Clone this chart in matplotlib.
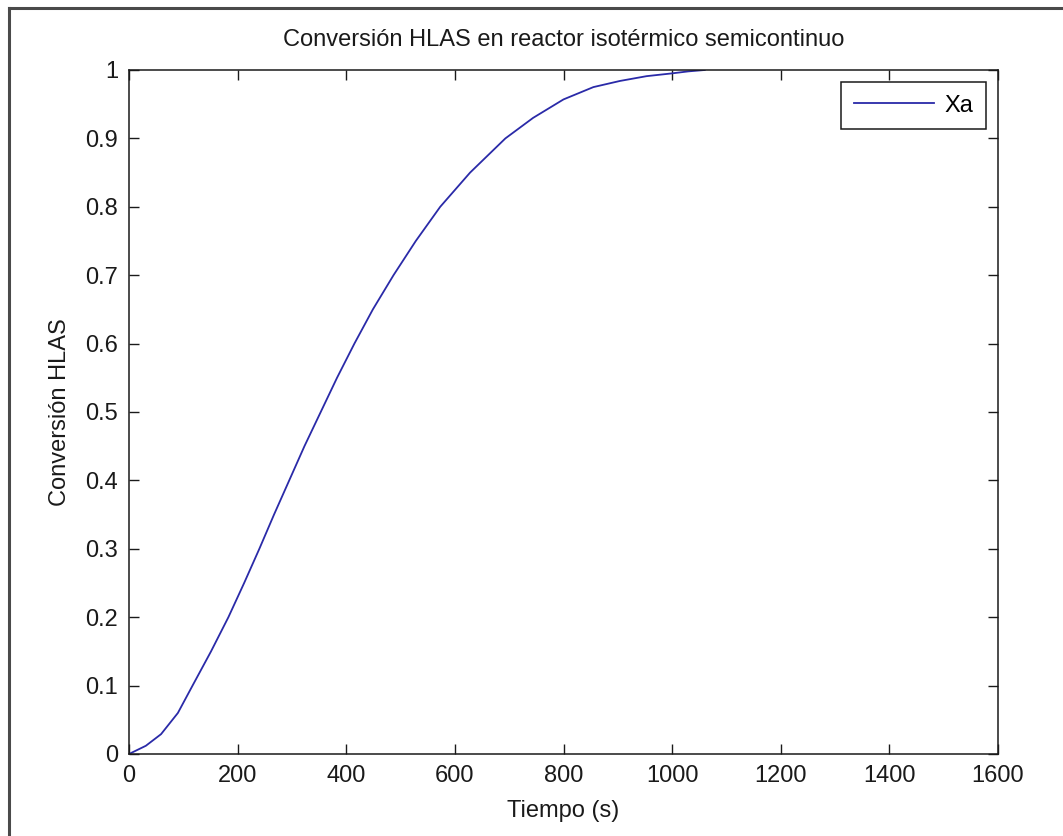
import matplotlib
matplotlib.use("Agg")
import matplotlib.pyplot as plt
from matplotlib.lines import Line2D

# Data
tiempo = [0, 31, 59, 90, 117, 151, 183, 212, 240, 267, 295, 323, 353, 383, 415,
          449, 487, 528, 573, 628, 693, 744, 800, 855, 904, 953, 999, 1030, 1060]
conversion = [0, 0.012, 0.029, 0.06, 0.1, 0.15, 0.2, 0.25, 0.3, 0.35, 0.4, 0.45,
              0.5, 0.55, 0.6, 0.65, 0.7, 0.75, 0.8, 0.85, 0.9, 0.93, 0.957, 0.975,
              0.984, 0.991, 0.995, 0.998, 1.0]
xticks = [0, 200, 400, 600, 800, 1000, 1200, 1400, 1600]
yticks = [0, 0.1, 0.2, 0.3, 0.4, 0.5, 0.6, 0.7, 0.8, 0.9, 1]
ytick_labels = ["0", "0.1", "0.2", "0.3", "0.4", "0.5", "0.6", "0.7", "0.8", "0.9", "1"]

plt.rcParams['font.family'] = ['Liberation Sans', 'DejaVu Sans']
FS = 17

W, H = 1063, 836
fig = plt.figure(figsize=(W / 100, H / 100), dpi=100)
fig.patch.set_facecolor('white')

left, right, top, bottom = 129, 998, 70, 754
ax = fig.add_axes([left / W, 1 - bottom / H, (right - left) / W, (bottom - top) / H])

ax.plot(tiempo, conversion, color='#2a2aa8', linewidth=1.3, label='Xa')

ax.set_xlim(0, 1600)
ax.set_ylim(0, 1)
ax.set_xticks(xticks)
ax.set_xticklabels([str(v) for v in xticks])
ax.set_yticks(yticks)
ax.set_yticklabels(ytick_labels)
ax.tick_params(direction='in', length=7, width=1, top=True, right=True,
               labelsize=FS, colors='#1a1a1a', pad=8)
for s in ax.spines.values():
    s.set_linewidth(1.1)
    s.set_color('#1a1a1a')

ax.set_title('Conversión HLAS en reactor isotérmico semicontinuo', fontsize=FS,
             pad=17, color='#1a1a1a')
ax.set_xlabel('Tiempo (s)', fontsize=FS, labelpad=9, color='#1a1a1a')
ax.set_ylabel('Conversión HLAS', fontsize=FS, labelpad=10, color='#1a1a1a')

leg = ax.legend(loc='upper right', fontsize=FS, fancybox=False, framealpha=1,
                edgecolor='#1a1a1a', borderpad=0.52, handlelength=3.4,
                handletextpad=0.45, borderaxespad=0.52)
leg.get_frame().set_linewidth(1.1)

# Figure border (top and left only)
fig.add_artist(Line2D([8.5 / W, 8.5 / W], [0, 1 - 7.5 / H], transform=fig.transFigure,
                      color='#4a4a4a', linewidth=2.2))
fig.add_artist(Line2D([8.5 / W, 1], [1 - 7.5 / H, 1 - 7.5 / H], transform=fig.transFigure,
                      color='#4a4a4a', linewidth=2.2))

fig.savefig('out.png', dpi=100, facecolor='white')
